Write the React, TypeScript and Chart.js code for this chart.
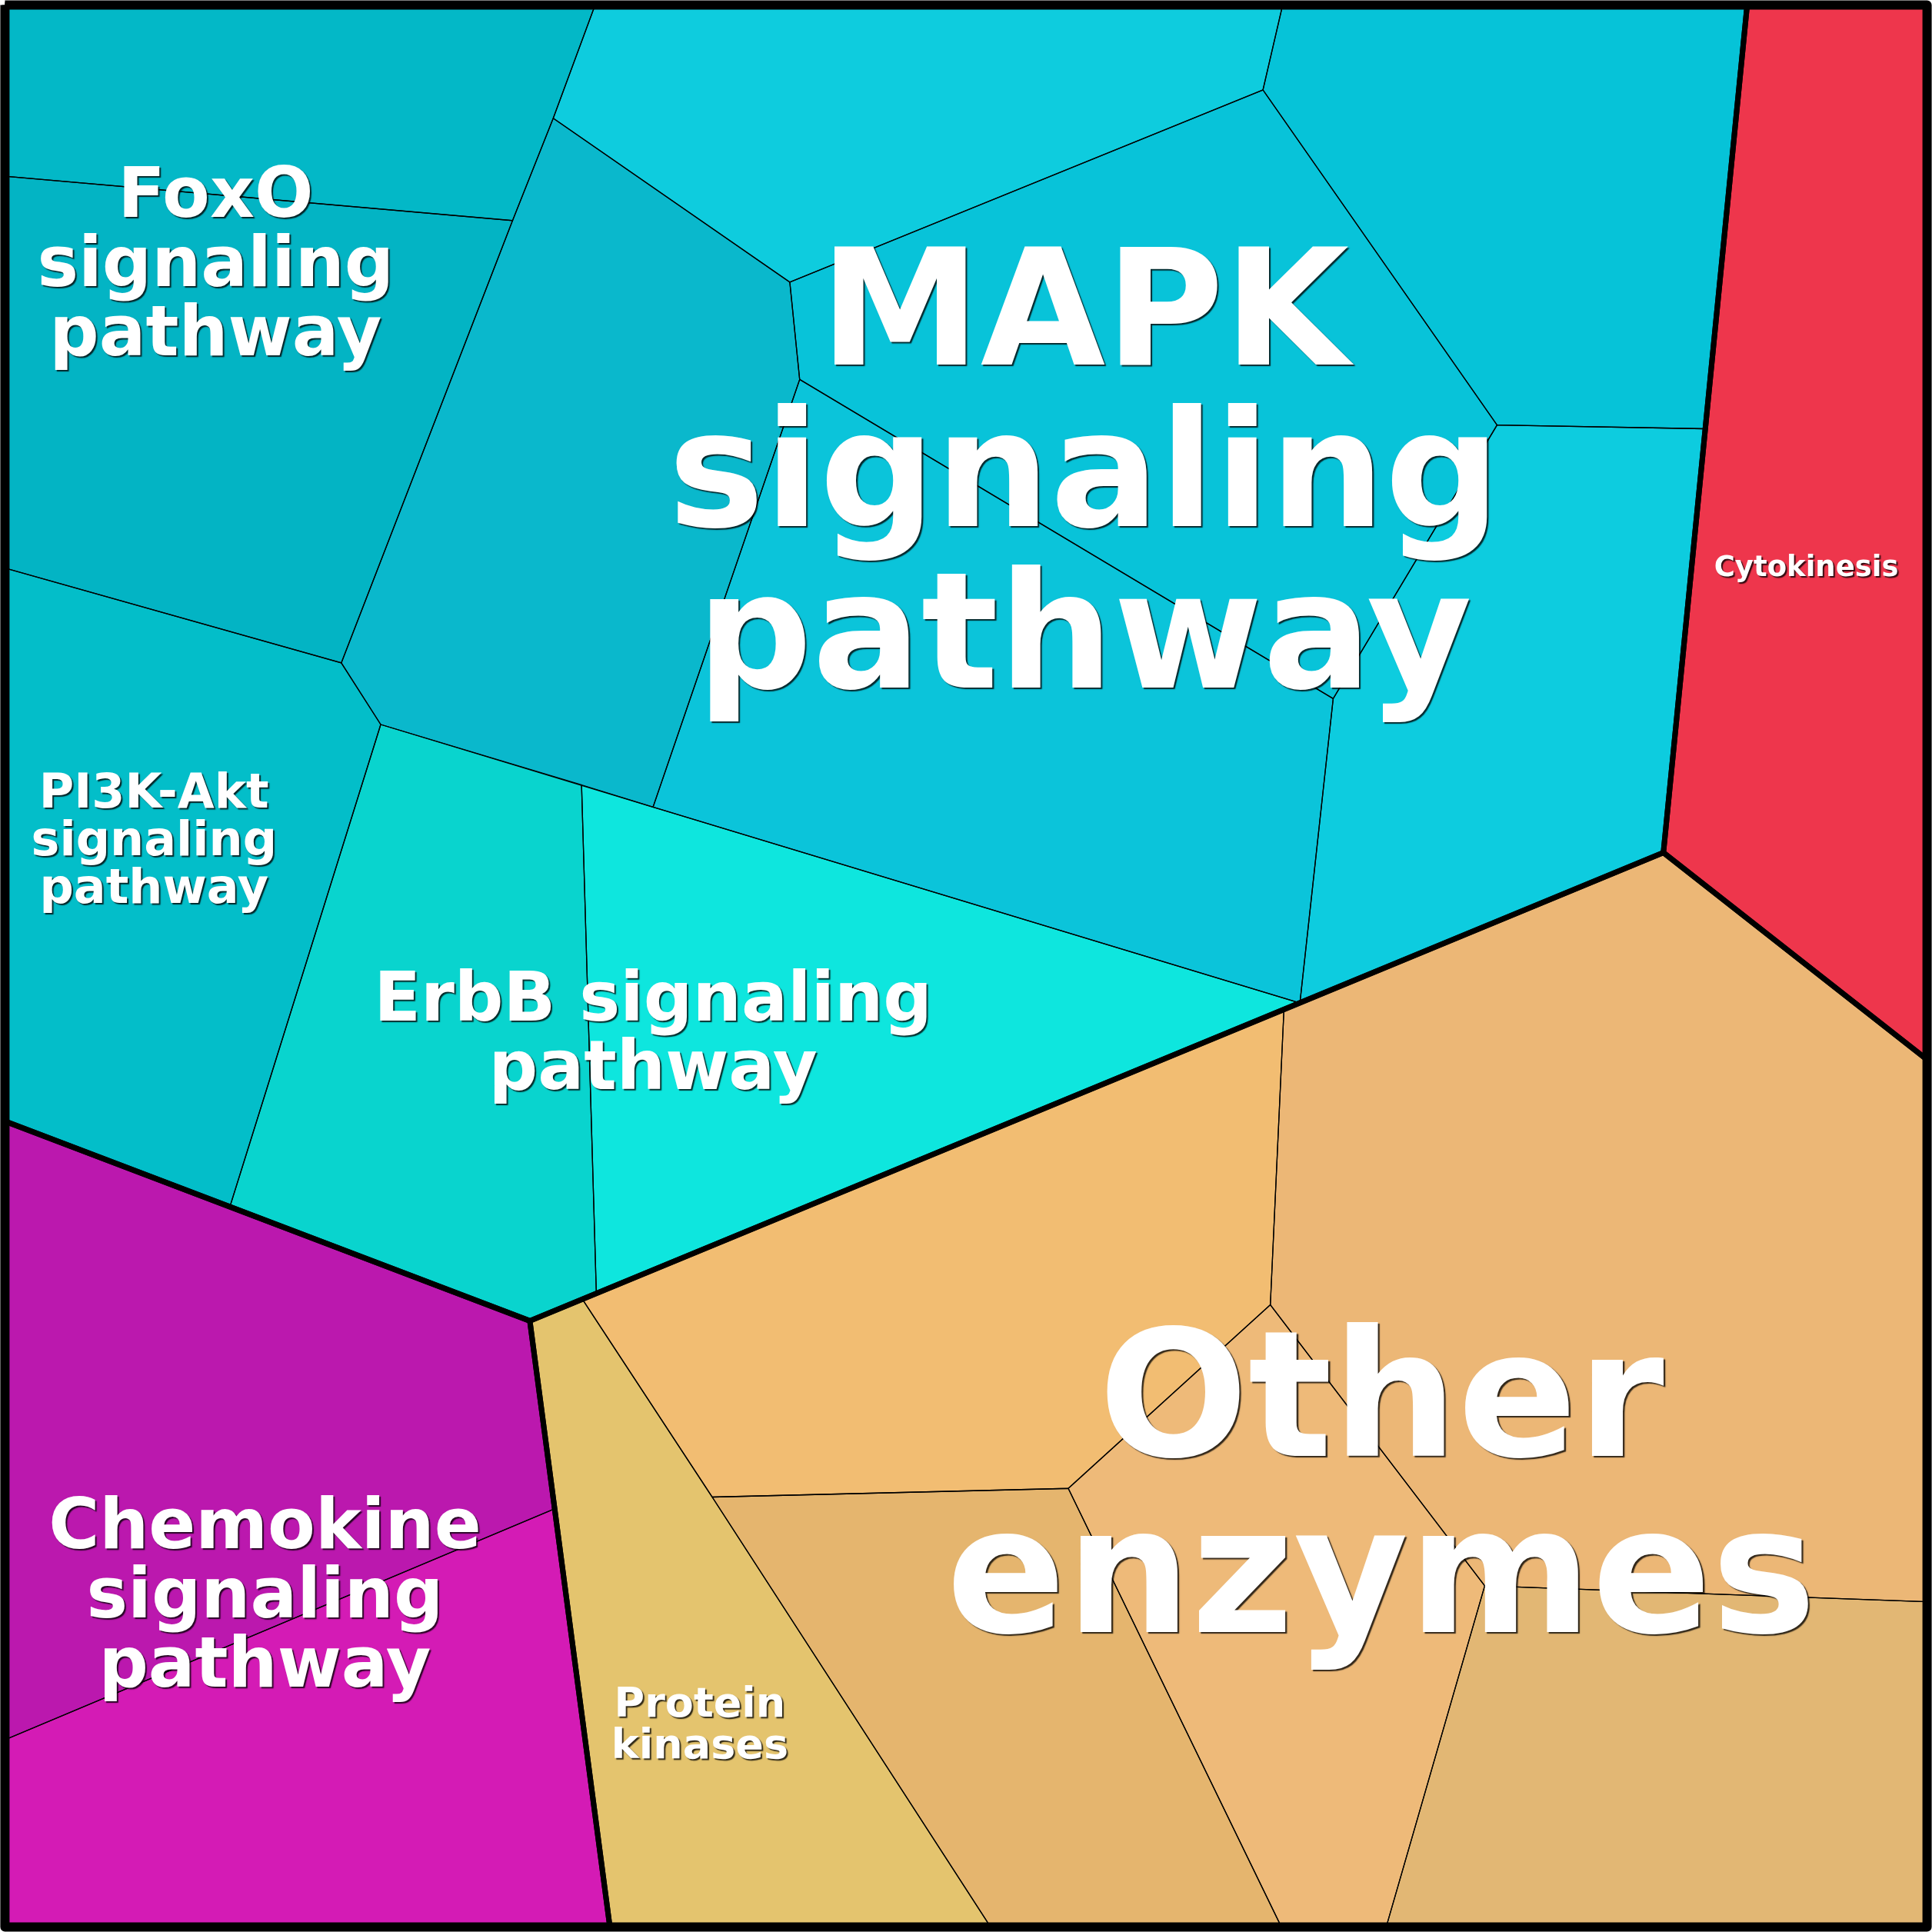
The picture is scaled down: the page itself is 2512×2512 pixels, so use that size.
import React, { useEffect, useRef } from "react";
import { Chart, registerables } from "chart.js";

Chart.register(...registerables);

// ---- DATA (Voronoi treemap, coordinates in a 0..1568 data space, y grows downward) ----
const cellNames = [
  "FoxO A", "FoxO B", "MAPK A", "MAPK B", "MAPK C", "MAPK D", "MAPK E", "MAPK F",
  "PI3K-Akt", "ErbB A", "ErbB B",
  "Cytokinesis",
  "Chemokine A", "Chemokine B",
  "Protein kinases", "Other A", "Other B", "Other C", "Other D", "Other E",
];

const cellGroups = [
  "Signaling", "Signaling", "Signaling", "Signaling", "Signaling", "Signaling", "Signaling", "Signaling",
  "Signaling", "Signaling", "Signaling",
  "Cytokinesis",
  "Chemokine", "Chemokine",
  "Enzymes", "Enzymes", "Enzymes", "Enzymes", "Enzymes", "Enzymes",
];

const cellPolygons: number[][][] = [
  [[4, 4], [483, 4], [449, 96], [416, 179], [4, 143]],
  [[4, 143], [416, 179], [277, 538], [4, 461]],
  [[449, 96], [641, 229], [649, 308], [530, 655], [309, 588], [277, 538], [416, 179]],
  [[483, 4], [1041, 4], [1025, 73], [641, 229], [449, 96]],
  [[1041, 4], [1418, 4], [1383, 348], [1215, 345], [1025, 73]],
  [[641, 229], [1025, 73], [1215, 345], [1082, 567], [649, 308]],
  [[649, 308], [1082, 567], [1055, 814], [530, 655]],
  [[1215, 345], [1383, 348], [1350, 692], [1055, 814], [1082, 567]],
  [[4, 461], [277, 538], [309, 588], [187, 978], [4, 910]],
  [[309, 588], [472, 637], [484, 1050], [430, 1072], [187, 978]],
  [[472, 637], [530, 655], [1055, 814], [484, 1050]],
  [[1418, 4], [1564, 4], [1564, 860], [1350, 692]],
  [[4, 910], [187, 978], [430, 1072], [449, 1225], [4, 1412]],
  [[4, 1412], [449, 1225], [495, 1564], [4, 1564]],
  [[430, 1072], [473, 1055], [578, 1215], [804, 1564], [495, 1564]],
  [[473, 1055], [1042, 820], [1031, 1059], [867, 1208], [578, 1215]],
  [[1042, 820], [1350, 692], [1564, 860], [1564, 1300], [1205, 1287], [1031, 1059]],
  [[578, 1215], [867, 1208], [1040, 1564], [804, 1564]],
  [[867, 1208], [1031, 1059], [1205, 1287], [1125, 1564], [1040, 1564]],
  [[1205, 1287], [1564, 1300], [1564, 1564], [1125, 1564]],
];

const groupNames = ["Signaling", "Cytokinesis", "Chemokine", "Enzymes"];
const groupOutlines: number[][][] = [
  [[4, 4], [1418, 4], [1350, 692], [1055, 814], [430, 1072], [4, 910]],
  [[1418, 4], [1564, 4], [1564, 860], [1350, 692]],
  [[4, 910], [430, 1072], [495, 1564], [4, 1564]],
  [[430, 1072], [1350, 692], [1564, 860], [1564, 1564], [495, 1564]],
];

const frameOutline: number[][] = [[4, 4], [1564, 4], [1564, 1564], [4, 1564]];

const labelTexts: string[][] = [
  ["MAPK", "signaling", "pathway"],
  ["FoxO", "signaling", "pathway"],
  ["PI3K-Akt", "signaling", "pathway"],
  ["ErbB signaling", "pathway"],
  ["Cytokinesis"],
  ["Chemokine", "signaling", "pathway"],
  ["Protein", "kinases"],
  ["Other", "enzymes"],
];
const labelAnchors: number[][] = [
  [880, 379],
  [175, 212],
  [125, 680],
  [530, 836],
  [1466, 459],
  [215, 1292],
  [568, 1398],
  [1121, 1201],
];

// ---- STYLES ----
const cellColors = [
  "#03B8C7", "#03B4C4", "#0AB8CC", "#0ECCDE", "#06C3D8", "#08C3D9", "#0BC4DA", "#0DCCDF",
  "#03BEC9", "#09D4CE", "#0EE6DE",
  "#EE364C",
  "#BB18AE", "#D41BB5",
  "#E4C46E", "#F2BD72", "#ECB776", "#E5B56E", "#EEBA79", "#E2B774",
];
const labelFontPx = [210, 90, 62, 89, 37, 90, 54, 229];

const SIZE = 2512;

const closeRing = (pts: number[][]) =>
  [...pts, pts[0]].map(([x, y]) => ({ x, y }));

const polygonFill = {
  id: "polygonFill",
  beforeDatasetsDraw(chart: any) {
    const ctx = chart.ctx;
    chart.data.datasets.forEach((ds: any, i: number) => {
      if (!ds.polyFill) return;
      const pts = chart.getDatasetMeta(i).data;
      ctx.save();
      ctx.beginPath();
      pts.forEach((p: any, j: number) => (j ? ctx.lineTo(p.x, p.y) : ctx.moveTo(p.x, p.y)));
      ctx.closePath();
      ctx.fillStyle = ds.polyFill;
      ctx.fill();
      ctx.restore();
    });
  },
};

const cellLabels = {
  id: "cellLabels",
  afterDatasetsDraw(chart: any) {
    const ctx = chart.ctx;
    const xs = chart.scales.x;
    const ys = chart.scales.y;
    labelTexts.forEach((lines, i) => {
      const fs = labelFontPx[i];
      const lh = fs * 1.0;
      const cx = xs.getPixelForValue(labelAnchors[i][0]);
      const cy = ys.getPixelForValue(labelAnchors[i][1]);
      const n = lines.length;
      ctx.save();
      ctx.font = `bold ${fs}px "DejaVu Sans"`;
      ctx.textAlign = "center";
      ctx.textBaseline = "alphabetic";
      ctx.fillStyle = "#ffffff";
      ctx.shadowColor = "rgba(0,0,0,0.8)";
      const off = Math.max(2, fs / 100);
      ctx.shadowOffsetX = off;
      ctx.shadowOffsetY = off;
      ctx.shadowBlur = 1.2;
      lines.forEach((t, k) => {
        const by = cy + (k - (n - 1) / 2) * lh + 0.364 * fs;
        ctx.fillText(t, cx, by);
      });
      ctx.restore();
    });
  },
};

export default function App() {
  const ref = useRef<HTMLCanvasElement | null>(null);

  useEffect(() => {
    document.body.style.margin = "0";
    const canvas = ref.current;
    if (!canvas) return;

    const datasets: any[] = [];
    cellPolygons.forEach((poly, i) => {
      datasets.push({
        label: cellNames[i] + " (" + cellGroups[i] + ")",
        data: closeRing(poly),
        showLine: true,
        polyFill: cellColors[i],
        borderColor: "#000000",
        borderWidth: 1.3,
        pointRadius: 0,
        tension: 0,
        fill: false,
        order: 2,
      });
    });
    groupOutlines.forEach((poly, i) => {
      datasets.push({
        label: groupNames[i],
        data: closeRing(poly),
        showLine: true,
        borderColor: "#000000",
        borderWidth: 7,
        borderJoinStyle: "miter",
        pointRadius: 0,
        tension: 0,
        fill: false,
        order: 1,
      });
    });
    datasets.push({
      label: "frame",
      data: closeRing(frameOutline),
      showLine: true,
      borderColor: "#000000",
      borderWidth: 12,
      borderJoinStyle: "round",
      pointRadius: 0,
      tension: 0,
      fill: false,
      order: 0,
      clip: false,
    });

    const chart = new Chart(canvas, {
      type: "scatter",
      data: { datasets },
      options: {
        animation: false,
        responsive: false,
        maintainAspectRatio: false,
        events: [],
        layout: { padding: 0 },
        plugins: { legend: { display: false }, tooltip: { enabled: false } },
        scales: {
          x: { type: "linear", min: 0, max: 1568, display: false },
          y: { type: "linear", min: 0, max: 1568, reverse: true, display: false },
        },
      },
      plugins: [polygonFill, cellLabels],
    } as any);

    return () => chart.destroy();
  }, []);

  return (
    <div style={{ width: SIZE, height: SIZE, background: "#ffffff" }}>
      <canvas ref={ref} width={SIZE} height={SIZE} style={{ width: SIZE, height: SIZE, display: "block" }} />
    </div>
  );
}
